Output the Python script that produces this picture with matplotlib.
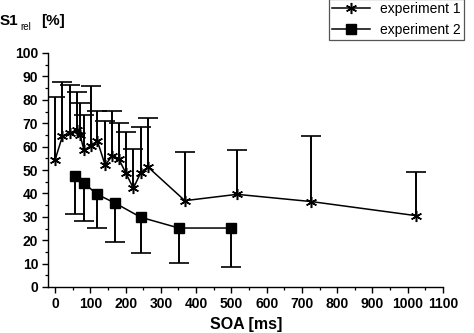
import matplotlib
matplotlib.use("Agg")
import matplotlib.pyplot as plt
import numpy as np
from matplotlib.ticker import MultipleLocator

plt.rcParams['font.family'] = ['Liberation Sans', 'DejaVu Sans']

# Experiment 1: mean relative S1 and upper standard deviation bound
soa_1 = [0, 21, 41, 61, 71, 82, 101, 120, 142, 162, 181, 200, 222, 243, 264, 368, 516, 727, 1023]
s1_1 = [54.3, 64.5, 65.7, 67.1, 65.0, 58.5, 60.3, 62.4, 52.1, 56.0, 54.6, 48.9, 42.2, 48.9, 51.2,
        36.9, 39.6, 36.5, 30.5]
upper_1 = [81.0, 87.7, 86.3, 83.5, 78.5, 73.5, 85.9, 75.3, 70.9, 75.3, 70.2, 66.4, 59.0, 68.2, 72.4,
           57.8, 58.5, 64.5, 49.1]

# Experiment 2: mean relative S1 and lower standard deviation bound
soa_2 = [57, 81, 118, 171, 243, 351, 500]
s1_2 = [47.6, 44.6, 39.7, 35.8, 29.8, 25.2, 25.2]
lower_2 = [31.2, 28.1, 25.3, 19.2, 14.4, 10.1, 8.4]

labels = ["experiment 1", "experiment 2"]

W, H = 474, 333
fig = plt.figure(figsize=(W / 100, H / 100), dpi=100)
ax = fig.add_axes([48 / W, 1 - 287 / H, (443 - 48) / W, (287 - 53) / H])

s1_1a = np.array(s1_1)
s1_2a = np.array(s1_2)
err_up = np.array(upper_1) - s1_1a
err_dn = s1_2a - np.array(lower_2)

# one-sided error bars
eb1 = ax.errorbar(soa_1, s1_1a, yerr=[np.zeros_like(err_up), err_up], fmt='none',
                  ecolor='black', elinewidth=1.4, capsize=7.5, capthick=1.2, zorder=2)
eb1[1][0].set_visible(False)
eb2 = ax.errorbar(soa_2, s1_2a, yerr=[err_dn, np.zeros_like(err_dn)], fmt='none',
                  ecolor='black', elinewidth=1.4, capsize=7.5, capthick=1.2, zorder=2)
eb2[1][1].set_visible(False)

l1, = ax.plot(soa_1, s1_1a, color='black', lw=1.1, marker=(6, 2, 0), ms=8, mew=1.1,
              label=labels[0], zorder=3)
l2, = ax.plot(soa_2, s1_2a, color='black', lw=1.1, marker='s', ms=6.5,
              label=labels[1], zorder=3)

ax.set_xlim(-20, 1100)
ax.set_ylim(0, 100)
ax.xaxis.set_major_locator(MultipleLocator(100))
ax.xaxis.set_minor_locator(MultipleLocator(50))
ax.yaxis.set_major_locator(MultipleLocator(10))
ax.yaxis.set_minor_locator(MultipleLocator(5))
for s in ['top', 'right']:
    ax.spines[s].set_visible(False)
for s in ['left', 'bottom']:
    ax.spines[s].set_linewidth(1.0)
ax.tick_params(which='major', direction='out', length=4, width=1.0, labelsize=10, pad=3)
ax.tick_params(which='minor', direction='out', length=2.2, width=0.9)
for t in ax.get_xticklabels() + ax.get_yticklabels():
    t.set_fontweight('bold')

# axis titles
fig.text(246 / W, 1 - 325 / H, "SOA [ms]", ha='center', va='center',
         fontsize=11.5, fontweight='bold')
fig.text(0 / W, 1 - 25 / H, "S1", ha='left', va='baseline', fontsize=11, fontweight='bold')
fig.text(20 / W, 1 - 30.5 / H, "rel", ha='left', va='baseline', fontsize=7)
fig.text(41.5 / W, 1 - 25 / H, "[%]", ha='left', va='baseline', fontsize=11, fontweight='bold')

leg = ax.legend(handles=[l1, l2], loc='lower left', bbox_to_anchor=(329 / W, 1 - 40 / H),
                bbox_transform=fig.transFigure, borderaxespad=0, fancybox=False,
                edgecolor='#555555', framealpha=1, fontsize=10, handlelength=2.7,
                handletextpad=0.7, borderpad=0.25, labelspacing=0.45)
leg.get_frame().set_linewidth(0.9)

fig.savefig("out.png", dpi=100)
